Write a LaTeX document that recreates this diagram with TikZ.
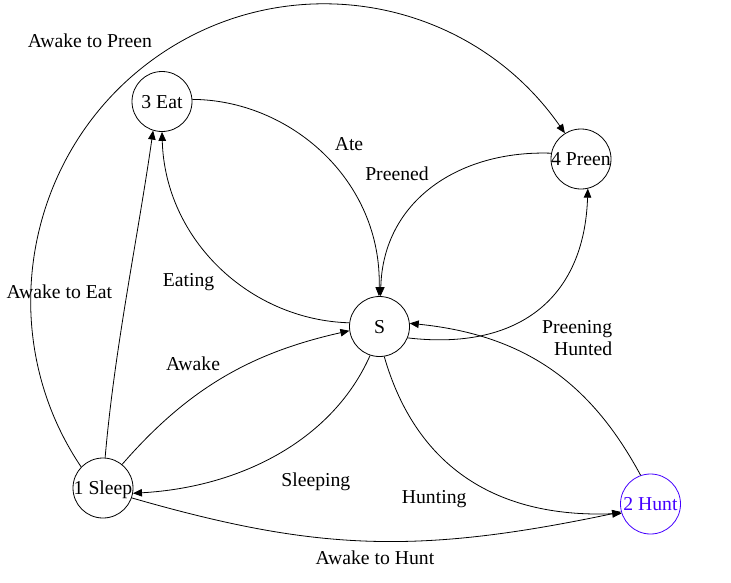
\documentclass[tikz,border=0pt]{standalone}
\usepackage{fontspec}
\setmainfont{Liberation Serif}
\usetikzlibrary{arrows.meta}
\definecolor{huntblue}{RGB}{68,0,255}
\begin{document}
\begin{tikzpicture}[x=1pt,y=-1pt,
  state/.style={draw, circle, line width=0.8pt, minimum size=60pt, inner sep=0pt, text height=13.3pt, text depth=0pt},
  lbl/.style={anchor=base, inner sep=0pt},
  edge/.style={line width=0.8pt, -{Triangle[length=9pt,width=7.5pt]}},
  font=\fontsize{19.7pt}{23pt}\selectfont]
\useasboundingbox (0,0) rectangle (731,582);
% states
\node[state] (eat) at (162,101.5) {\makebox[0pt]{3 Eat}};
\node[state] (preen) at (581,159) {\makebox[0pt]{4 Preen}};
\node[state] (s) at (379.5,326.5) {\makebox[0pt]{S}};
\node[state] (sleep) at (103,488) {\makebox[0pt]{1 Sleep}};
\node[state, draw=huntblue, text=huntblue] (hunt) at (650.5,504) {\makebox[0pt]{2 Hunt}};
% transitions
\draw[edge] (eat.4) .. controls (290,100) and (382,180) .. (s.91);
\draw[edge] (preen.169) .. controls (460,150) and (383,200) .. (s.88);
\draw[edge] (s.173) .. controls (250,320) and (165,240) .. (eat.270);
\draw[edge] (sleep.86) .. controls (114.6,348) and (137.4,240) .. (eat.253);
\draw[edge] (sleep.51) .. controls (188.5,388) and (251.7,352.6) .. (s.188);
\draw[edge] (s.252) .. controls (333.5,438.3) and (243.3,487) .. (sleep.350);
\draw[edge] (s.279) .. controls (414.6,462.5) and (491.7,518.5) .. (hunt.198);
\draw[edge] (hunt.109) .. controls (593,387) and (529.4,335.3) .. (s.6);
\draw[edge] (s.338) .. controls (517.5,350.8) and (584.4,299) .. (preen.283);
\draw[edge] (sleep.341) .. controls (315.9,550.9) and (416.3,555) .. (hunt.195);
\draw[edge] (sleep.136) .. controls (-8.6,333.9) and (24.3,150) .. (156.4,57)
  .. controls (288.5,-36) and (469.9,-3.4) .. (preen.122);
% labels
\node[lbl] (lpreen) at (90,47) {Awake to Preen};
\node[lbl] (leat) at (59.4,298) {Awake to Eat};
\node[lbl] (leating) at (188.5,286) {Eating};
\node[lbl] (late) at (349,150) {Ate};
\node[lbl] (lawake) at (193,370.7) {Awake};
\node[lbl] (lpreened) at (397,180) {Preened};
\node[lbl, anchor=base east] (lpreening) at (612.3,333.3) {Preening};
\node[lbl, anchor=base east] (lhunted) at (612.3,355) {Hunted};
\node[lbl] (lsleeping) at (315.8,486.7) {Sleeping};
\node[lbl] (lhunting) at (434.2,503.3) {Hunting};
\node[lbl] (lawakehunt) at (375,564) {Awake to Hunt};
\end{tikzpicture}
\end{document}
